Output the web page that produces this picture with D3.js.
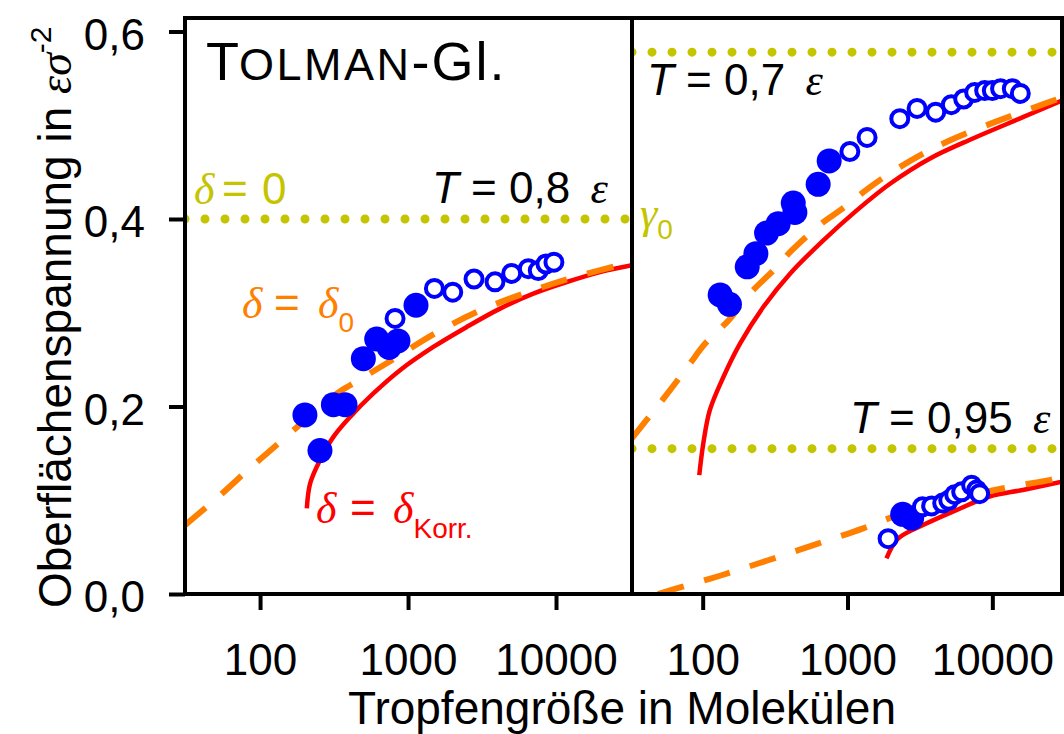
<!DOCTYPE html>
<html lang="de">
<head>
<meta charset="UTF-8">
<title>Tolman-Gleichung</title>
<script src="https://d3js.org/d3.v7.min.js"></script>
<style>
  body { margin: 0; background: #fff; }
  text { font-family: "Liberation Sans", Arial, sans-serif; }
  .gr { font-family: "Liberation Serif", "DejaVu Serif", serif; font-style: italic; }
</style>
</head>
<body>
<script>
// Achsen
var yTicks = [0, 0.2, 0.4, 0.6];
var xTicks = [100, 1000, 10000];

// T = 0,8 (linkes Feld)
var t08FilledN = [201, 254, 313, 375, 499, 614, 745, 855, 1132];
var t08FilledG = [0.191, 0.153, 0.202, 0.202, 0.251, 0.272, 0.263, 0.270, 0.308];
var t08OpenN = [817, 1507, 2005, 2792, 3870, 5016, 6500, 7587, 8550, 9680];
var t08OpenG = [0.294, 0.326, 0.322, 0.336, 0.333, 0.342, 0.347, 0.345, 0.352, 0.354];
var t08Gamma0 = 0.4;
var t08TolmanN = [31.1, 50.9, 82.4, 133, 330, 406, 727, 1582, 3187, 6760, 13980, 32620];
var t08TolmanG = [0.0735, 0.102, 0.132, 0.1606, 0.2138, 0.2227, 0.2467, 0.2795, 0.3035, 0.3231, 0.339, 0.354];
var t08KorrN = [207, 218, 254, 313, 406, 583, 883, 1482, 2492, 4184, 7024, 11810, 19830, 32620];
var t08KorrG = [0.0913, 0.118, 0.1428, 0.1676, 0.1889, 0.2139, 0.2387, 0.2635, 0.2848, 0.3044, 0.3204, 0.3328, 0.3434, 0.3506];

// T = 0,7 (rechtes Feld)
var t07FilledN = [132, 153, 203, 233, 276, 332, 422, 433, 627, 747];
var t07FilledG = [0.319, 0.309, 0.349, 0.363, 0.385, 0.395, 0.417, 0.407, 0.437, 0.462];
var t07OpenN = [1038, 1365, 2296, 3022, 4064, 5212, 6339, 7553, 8852, 10000, 11400, 13740, 15600];
var t07OpenG = [0.472, 0.487, 0.507, 0.518, 0.514, 0.522, 0.528, 0.535, 0.537, 0.537, 0.539, 0.539, 0.534];
var t07Gamma0 = 0.578;
var t07TolmanN = [32.4, 59.5, 81.7, 104, 154, 201, 324, 412, 681, 887, 1429, 1865, 3006, 4940, 10370, 20500, 30270];
var t07TolmanG = [0.1659, 0.2174, 0.2458, 0.2671, 0.2934, 0.3168, 0.3488, 0.3665, 0.3967, 0.4092, 0.434, 0.4465, 0.466, 0.4829, 0.5033, 0.5202, 0.5296];
var t07KorrN = [94.7, 101, 112, 139, 181, 262, 401, 681, 1158, 1966, 3714, 7340, 16260, 30270];
var t07KorrG = [0.1268, 0.1606, 0.1961, 0.2315, 0.2671, 0.3061, 0.3417, 0.3772, 0.4092, 0.4376, 0.4646, 0.4859, 0.5086, 0.5264];

// T = 0,95 (rechtes Feld)
var t095FilledN = [2404, 2774];
var t095FilledG = [0.085, 0.081];
var t095OpenN = [1906, 3289, 3810, 4542, 4999, 5497, 6140, 7195, 7793, 8170];
var t095OpenG = [0.059, 0.093, 0.094, 0.097, 0.100, 0.106, 0.109, 0.116, 0.111, 0.107];
var t095Gamma0 = 0.155;
var t095TolmanN = [49.2, 69.7, 135, 283, 603, 1282, 2296, 5080, 12160, 24840, 30270];
var t095TolmanG = [0.0, 0.007, 0.020, 0.036, 0.053, 0.070, 0.085, 0.100, 0.113, 0.1215, 0.1247];
var t095KorrN = [1858, 2233, 3319, 5650, 9570, 16260, 30270];
var t095KorrG = [0.038, 0.059, 0.0735, 0.0895, 0.104, 0.111, 0.1197];

var width = 1064, height = 734;
var plotTop = 18, plotBottom = 594;
var blue = "#0000ff", red = "#ff0000", orange = "#ff8000", olive = "#c4c400";

var svg = d3.select("body").append("svg")
    .attr("width", width)
    .attr("height", height);

var y = d3.scaleLinear().domain([0, 0.6]).range([594, 31.5]);
var xLeft = d3.scaleLog().domain([31.1, 32620]).range([185, 632]);
var xRight = d3.scaleLog().domain([32.5, 30270]).range([632, 1062]);

function zip(a, b) { return a.map(function (v, i) { return [v, b[i]]; }); }

function drawPanel(id, x, sets) {
    var r = x.range();
    svg.append("clipPath").attr("id", id)
        .append("rect")
        .attr("x", r[0]).attr("y", plotTop)
        .attr("width", r[1] - r[0]).attr("height", plotBottom - plotTop);
    var g = svg.append("g").attr("clip-path", "url(#" + id + ")");
    var line = d3.line()
        .x(function (d) { return x(d[0]); })
        .y(function (d) { return y(d[1]); })
        .curve(d3.curveCatmullRom.alpha(0.5));

    sets.forEach(function (s) {
        // gamma_0 (delta = 0)
        g.append("line")
            .attr("x1", x(x.domain()[0])).attr("x2", x(x.domain()[1]) - 4)
            .attr("y1", y(s.gamma0)).attr("y2", y(s.gamma0))
            .attr("stroke", olive).attr("stroke-width", 9)
            .attr("stroke-linecap", "round")
            .attr("stroke-dasharray", "0,20");
    });
    sets.forEach(function (s) {
        g.append("path").datum(zip(s.korrN, s.korrG))
            .attr("d", line).attr("fill", "none")
            .attr("stroke", red).attr("stroke-width", 4.5);
        g.append("path").datum(zip(s.tolN, s.tolG))
            .attr("d", line).attr("fill", "none")
            .attr("stroke", orange).attr("stroke-width", 6)
            .attr("stroke-dasharray", "27,21");
    });
    sets.forEach(function (s) {
        g.selectAll(null).data(zip(s.filledN, s.filledG)).enter()
            .append("circle")
            .attr("cx", function (d) { return x(d[0]); })
            .attr("cy", function (d) { return y(d[1]); })
            .attr("r", 12.5).attr("fill", blue);
        g.selectAll(null).data(zip(s.openN, s.openG)).enter()
            .append("circle")
            .attr("cx", function (d) { return x(d[0]); })
            .attr("cy", function (d) { return y(d[1]); })
            .attr("r", 8.5).attr("fill", "#fff")
            .attr("stroke", blue).attr("stroke-width", 4);
    });

    var ax = svg.append("g")
        .attr("transform", "translate(0," + plotBottom + ")")
        .call(d3.axisBottom(x).tickValues(xTicks).tickSize(16).tickSizeOuter(0)
            .tickPadding(34).tickFormat(d3.format("d")));
    ax.select(".domain").remove();
    ax.selectAll("line").attr("stroke-width", 4);
    ax.selectAll("text").attr("font-size", 44)
        .attr("font-family", "Liberation Sans, Arial, sans-serif");

    svg.append("rect")
        .attr("x", r[0]).attr("y", plotTop)
        .attr("width", r[1] - r[0]).attr("height", plotBottom - plotTop)
        .attr("fill", "none").attr("stroke", "#000").attr("stroke-width", 4);
}

drawPanel("clipL", xLeft, [{
    gamma0: t08Gamma0, filledN: t08FilledN, filledG: t08FilledG,
    openN: t08OpenN, openG: t08OpenG,
    tolN: t08TolmanN, tolG: t08TolmanG, korrN: t08KorrN, korrG: t08KorrG
}]);
drawPanel("clipR", xRight, [{
    gamma0: t07Gamma0, filledN: t07FilledN, filledG: t07FilledG,
    openN: t07OpenN, openG: t07OpenG,
    tolN: t07TolmanN, tolG: t07TolmanG, korrN: t07KorrN, korrG: t07KorrG
}, {
    gamma0: t095Gamma0, filledN: t095FilledN, filledG: t095FilledG,
    openN: t095OpenN, openG: t095OpenG,
    tolN: t095TolmanN, tolG: t095TolmanG, korrN: t095KorrN, korrG: t095KorrG
}]);

// y-Achse
var ay = svg.append("g")
    .attr("transform", "translate(185,0)")
    .call(d3.axisLeft(y).tickValues(yTicks).tickSize(16).tickSizeOuter(0)
        .tickPadding(24).tickFormat(function (d) { return d3.format(".1f")(d).replace(".", ","); }));
ay.select(".domain").remove();
ay.selectAll("line").attr("stroke-width", 4);
ay.selectAll("text").attr("font-size", 44).attr("dy", "0.4em")
    .attr("font-family", "Liberation Sans, Arial, sans-serif");

// Achsentitel
svg.append("text")
    .attr("x", 622).attr("y", 724)
    .attr("text-anchor", "middle").attr("font-size", 46)
    .text("Tropfengröße in Molekülen");

var yt = svg.append("text")
    .attr("transform", "translate(71,608) rotate(-90)")
    .attr("font-size", 46);
yt.append("tspan").text("Oberflächenspannung in ");
yt.append("tspan").attr("class", "gr").text("εσ");
yt.append("tspan").attr("font-size", 30).attr("dy", -20).text("-2");

// Titel
var tt = svg.append("text").attr("x", 206).attr("y", 80);
tt.append("tspan").attr("font-size", 54).text("T");
tt.append("tspan").attr("font-size", 45).attr("letter-spacing", 2.5).text("OLMAN");
tt.append("tspan").attr("font-size", 54).attr("letter-spacing", 2).text("-Gl.");

// delta = 0
var d0 = svg.append("text").attr("y", 204).attr("fill", olive).attr("font-size", 44);
d0.append("tspan").attr("x", 194).attr("class", "gr").text("δ");
d0.append("tspan").attr("x", 222).text("=");
d0.append("tspan").attr("x", 262).text("0");

// gamma_0
var g0 = svg.append("text").attr("y", 228).attr("fill", olive);
g0.append("tspan").attr("x", 640).attr("class", "gr").attr("font-size", 44).text("γ");
g0.append("tspan").attr("font-size", 28).attr("dy", 11).text("0");

// Temperaturen
function tempLabel(x0, y0, val) {
    var t = svg.append("text").attr("x", x0).attr("y", y0).attr("font-size", 44);
    t.append("tspan").attr("font-style", "italic").text("T");
    t.append("tspan").text(" = " + val + " ");
    t.append("tspan").attr("class", "gr").attr("dx", 8).text("ε");
}
tempLabel(432, 203, "0,8");
tempLabel(647, 95, "0,7");
tempLabel(850, 433, "0,95");

// delta = delta_0
var dT = svg.append("text").attr("y", 318).attr("fill", orange).attr("font-size", 44);
dT.append("tspan").attr("x", 242).attr("class", "gr").text("δ");
dT.append("tspan").attr("x", 274).text("=");
dT.append("tspan").attr("x", 318).attr("class", "gr").text("δ");
dT.append("tspan").attr("font-size", 28).attr("dy", 14).text("0");

// delta = delta_Korr
var dK = svg.append("text").attr("y", 523).attr("fill", red).attr("font-size", 44);
dK.append("tspan").attr("x", 316).attr("class", "gr").text("δ");
dK.append("tspan").attr("x", 350).text("=");
dK.append("tspan").attr("x", 393).attr("class", "gr").text("δ");
dK.append("tspan").attr("font-size", 28).attr("dy", 15).text("Korr.");
</script>
</body>
</html>
